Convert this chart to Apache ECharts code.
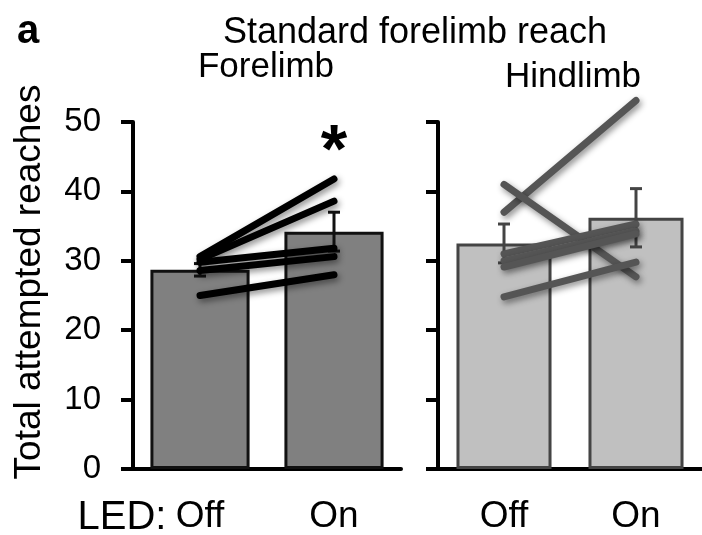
<!DOCTYPE html>
<html>
<head>
<meta charset="utf-8">
<script src="https://cdn.jsdelivr.net/npm/echarts@6/dist/echarts.min.js"></script>
<style>
html,body{margin:0;padding:0;background:#fff;}
#c{width:702px;height:535px;}
</style>
</head>
<body>
<div id="c"></div>
<script>
// ---- data ----
const categories = ['Off', 'On'];
const foreOff = [30.6, 30.2, 29.8, 28.6, 25.0];
const foreOn  = [41.8, 38.6, 31.8, 30.6, 28.0];
const hindOff = [37.0, 41.0, 31.0, 30.0, 29.1, 24.8];
const hindOn  = [53.1, 27.7, 35.3, 34.3, 33.9, 29.8];
const foreMean = [28.7, 34.2];
const foreErr  = [0.9, 2.8];
const hindMean = [32.5, 36.2];
const hindErr  = [2.8, 4.2];
const yTickLabels = ['0', '10', '20', '30', '40', '50'];
const sigMark = [{ cat: 1, value: 45.5, text: '*' }];

const FONT = '"Liberation Sans", Arial, sans-serif';

const chart = echarts.init(document.getElementById('c'), null, { renderer: 'canvas' });

function errSeries(idx, means, errs, color) {
  return {
    type: 'custom',
    xAxisIndex: idx, yAxisIndex: idx,
    z: 5,
    data: means.map((m, i) => [i, m - errs[i], m + errs[i]]),
    renderItem: function (params, api) {
      const x = api.coord([api.value(0), 0])[0];
      const lo = api.coord([api.value(0), api.value(1)])[1];
      const hi = api.coord([api.value(0), api.value(2)])[1];
      const hw = 6;
      const st = { stroke: color, lineWidth: 3 };
      return {
        type: 'group',
        children: [
          { type: 'line', shape: { x1: x, y1: lo, x2: x, y2: hi }, style: st },
          { type: 'line', shape: { x1: x - hw, y1: lo, x2: x + hw, y2: lo }, style: st },
          { type: 'line', shape: { x1: x - hw, y1: hi, x2: x + hw, y2: hi }, style: st }
        ]
      };
    }
  };
}

function subjectLines(idx, offArr, onArr, color) {
  return offArr.map((v, i) => ({
    type: 'line',
    xAxisIndex: idx, yAxisIndex: idx,
    data: [v, onArr[i]],
    symbol: 'none',
    clip: false,
    z: 6,
    silent: true,
    lineStyle: {
      color: color, width: 7, cap: 'round',
      shadowBlur: 6, shadowColor: 'rgba(0,0,0,0.45)', shadowOffsetX: 2, shadowOffsetY: 3
    }
  }));
}

const yAxisCommon = {
  type: 'value', min: 0, max: 50, interval: 10,
  axisLine: { show: true, lineStyle: { color: '#000', width: 4 } },
  axisTick: { show: true, length: 12, lineStyle: { color: '#000', width: 4 } },
  splitLine: { show: false }
};

const xAxisCommon = {
  type: 'category', data: categories,
  axisLine: { show: true, lineStyle: { color: '#000', width: 4 } },
  axisTick: { show: false },
  axisLabel: { fontFamily: FONT, fontSize: 37, color: '#000', margin: 29 }
};

const option = {
  animation: false,
  backgroundColor: '#fff',
  grid: [
    { left: 133, top: 122, width: 268, height: 348 },
    { left: 438, top: 122, width: 270, height: 348 }
  ],
  xAxis: [
    Object.assign({ gridIndex: 0 }, xAxisCommon),
    Object.assign({ gridIndex: 1 }, xAxisCommon)
  ],
  yAxis: [
    Object.assign({ gridIndex: 0 }, yAxisCommon, {
      axisLabel: {
        fontFamily: FONT, fontSize: 33, color: '#000', margin: 32,
        formatter: (v) => yTickLabels[Math.round(v / 10)]
      }
    }),
    Object.assign({ gridIndex: 1 }, yAxisCommon, { axisLabel: { show: false } })
  ],
  series: [
    {
      type: 'bar', xAxisIndex: 0, yAxisIndex: 0, data: foreMean, barWidth: '74%', z: 2,
      itemStyle: { color: '#808080', borderColor: '#111', borderWidth: 3 }
    },
    {
      type: 'bar', xAxisIndex: 1, yAxisIndex: 1, data: hindMean, barWidth: '72%', z: 2,
      itemStyle: { color: '#c0c0c0', borderColor: '#444', borderWidth: 3 }
    },
    errSeries(0, foreMean, foreErr, '#111'),
    errSeries(1, hindMean, hindErr, '#444'),
    ...subjectLines(0, foreOff, foreOn, '#000'),
    ...subjectLines(1, hindOff, hindOn, '#555'),
    {
      type: 'custom', xAxisIndex: 0, yAxisIndex: 0, z: 7,
      data: sigMark.map(d => [d.cat, d.value]),
      renderItem: function (params, api) {
        const p = api.coord([api.value(0), api.value(1)]);
        return {
          type: 'text', x: p[0], y: p[1],
          style: {
            text: sigMark[params.dataIndex].text,
            font: 'bold 68px ' + FONT, fill: '#000', align: 'center', verticalAlign: 'middle'
          }
        };
      }
    }
  ],
  graphic: [
    { type: 'text', left: 17, top: 12, style: { text: 'a', font: 'bold 40px ' + FONT, fill: '#000' } },
    { type: 'text', x: 415, y: 33, style: { text: 'Standard forelimb reach', font: '36px ' + FONT, fill: '#000', align: 'center', verticalAlign: 'middle' } },
    { type: 'text', x: 266, y: 67, style: { text: 'Forelimb', font: '35px ' + FONT, fill: '#000', align: 'center', verticalAlign: 'middle' } },
    { type: 'text', x: 573, y: 77, style: { text: 'Hindlimb', font: '35px ' + FONT, fill: '#000', align: 'center', verticalAlign: 'middle' } },
    { type: 'text', x: 122, y: 518, style: { text: 'LED:', font: '40px ' + FONT, fill: '#000', align: 'center', verticalAlign: 'middle' } },
    { type: 'text', x: 30, y: 282, rotation: Math.PI / 2, style: { text: 'Total attempted reaches', font: '37px ' + FONT, fill: '#000', align: 'center', verticalAlign: 'middle' } }
  ]
};

chart.setOption(option);
</script>
</body>
</html>
